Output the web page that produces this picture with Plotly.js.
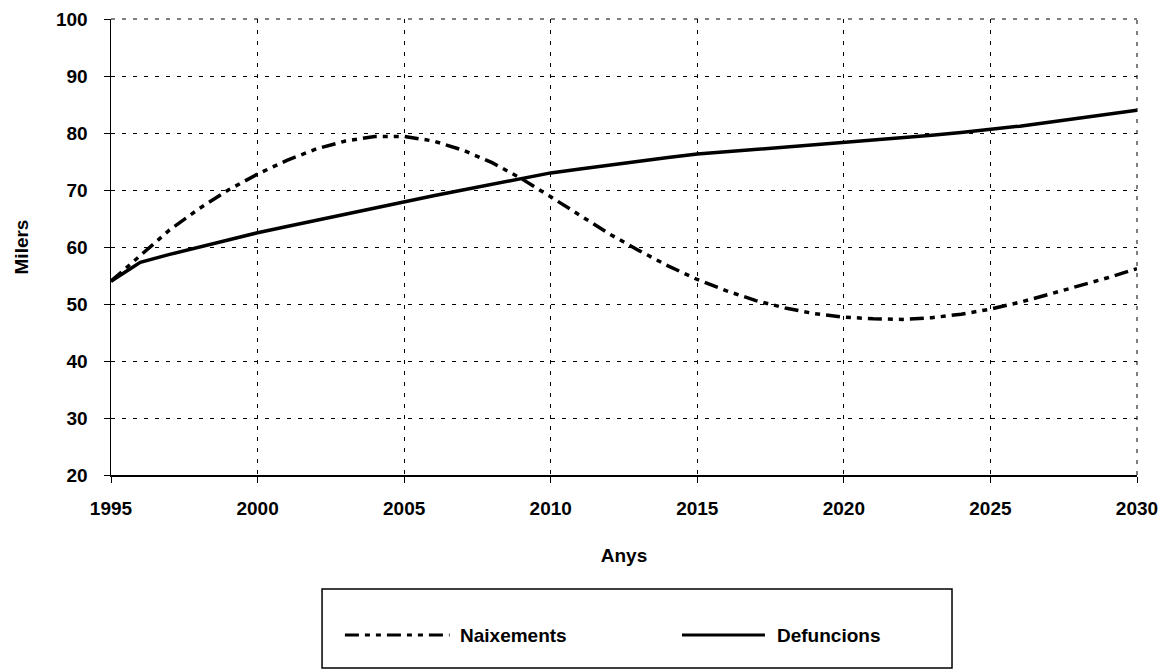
<!DOCTYPE html>
<html>
<head>
<meta charset="utf-8">
<script src="https://cdn.plot.ly/plotly-3.0.1.min.js"></script>
<style>html,body{margin:0;padding:0;background:#fff;}#chart{width:1173px;height:670px;}</style>
</head>
<body>
<div id="chart"></div>
<script>
const years = [1995,1996,1997,1998,1999,2000,2001,2002,2003,2004,2005,2006,2007,2008,2009,2010,2011,2012,2013,2014,2015,2016,2017,2018,2019,2020,2021,2022,2023,2024,2025,2026,2027,2028,2029,2030];
const naixements = [54.0,58.5,63.0,66.7,70.0,72.8,75.2,77.2,78.6,79.4,79.4,78.6,77.0,74.8,72.0,68.8,65.5,62.3,59.4,56.7,54.3,52.3,50.6,49.3,48.3,47.7,47.4,47.3,47.6,48.2,49.1,50.3,51.7,53.1,54.6,56.2];
const defuncions = [54.0,57.3,58.7,60.0,61.3,62.5,63.6,64.7,65.8,66.9,68.0,69.0,70.0,71.0,72.0,73.0,73.7,74.4,75.1,75.7,76.3,76.7,77.1,77.5,77.9,78.3,78.7,79.1,79.6,80.1,80.6,81.2,81.9,82.6,83.3,84.0];
const seriesNames = ["Naixements","Defuncions"];
const xTicks = [1995,2000,2005,2010,2015,2020,2025,2030];
const yTicks = [20,30,40,50,60,70,80,90,100];
const xTitle = "Anys";
const yTitle = "Milers";

const font = {family: "Liberation Sans, Arial, sans-serif", size: 19, color: "#000", weight: "bold"};
const dashDot = "14px,6px,5px,6px,5px,6px";

const traces = [
  {x: years, y: naixements, name: seriesNames[0], mode: "lines", type: "scatter",
   line: {color: "#000", width: 3.5, dash: dashDot}, showlegend: false},
  {x: years, y: defuncions, name: seriesNames[1], mode: "lines", type: "scatter",
   line: {color: "#000", width: 3.5}, showlegend: false}
];

const legendY = -0.351;
const layout = {
  width: 1173, height: 670,
  margin: {l: 111, r: 36, t: 19, b: 195},
  paper_bgcolor: "#fff", plot_bgcolor: "#fff",
  font: font,
  showlegend: false,
  xaxis: {
    range: [1995, 2030], tickvals: xTicks, ticktext: xTicks.map(String),
    showline: true, linecolor: "#000", linewidth: 1.5,
    ticks: "outside", ticklen: 6, tickcolor: "#000",
    showgrid: true, gridcolor: "#000", gridwidth: 1, griddash: "4px,7px",
    zeroline: false, ticklabelstandoff: 10,
    title: {text: xTitle, font: font, standoff: 30}
  },
  yaxis: {
    range: [20, 100], tickvals: yTicks, ticktext: yTicks.map(String),
    showline: true, linecolor: "#000", linewidth: 1.5,
    ticks: "outside", ticklen: 6, tickcolor: "#000",
    showgrid: true, gridcolor: "#000", gridwidth: 1, griddash: "4px,7px",
    zeroline: false, ticklabelstandoff: 12,
    title: {text: yTitle, font: font, standoff: 22}
  },
  shapes: [
    {type: "line", xref: "paper", yref: "paper", x0: 0, x1: 1, y0: 1, y1: 1,
     line: {color: "#000", width: 1, dash: "4px,7px"}},
    {type: "line", xref: "paper", yref: "paper", x0: 1, x1: 1, y0: 0, y1: 1,
     line: {color: "#000", width: 1, dash: "4px,7px"}},
    {type: "rect", xref: "paper", yref: "paper", x0: 0.2057, x1: 0.8197, y0: -0.25, y1: -0.423,
     line: {color: "#000", width: 1.5}, fillcolor: "rgba(0,0,0,0)"},
    {type: "line", xref: "paper", yref: "paper", x0: 0.228, x1: 0.330, y0: legendY, y1: legendY,
     line: {color: "#000", width: 3, dash: dashDot}},
    {type: "line", xref: "paper", yref: "paper", x0: 0.5565, x1: 0.6374, y0: legendY, y1: legendY,
     line: {color: "#000", width: 3}}
  ],
  annotations: [
    {xref: "paper", yref: "paper", x: 0.338, y: legendY, text: seriesNames[0], showarrow: false,
     xanchor: "left", yanchor: "middle", font: font},
    {xref: "paper", yref: "paper", x: 0.647, y: legendY, text: seriesNames[1], showarrow: false,
     xanchor: "left", yanchor: "middle", font: font}
  ]
};

Plotly.newPlot("chart", traces, layout, {displayModeBar: false, staticPlot: true});
</script>
</body>
</html>
